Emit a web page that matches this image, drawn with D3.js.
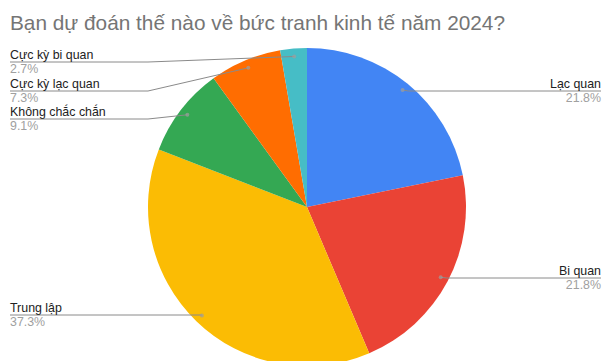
<!DOCTYPE html>
<html>
<head>
<meta charset="utf-8">
<script src="https://cdn.jsdelivr.net/npm/d3@7"></script>
<style>
  html, body { margin: 0; padding: 0; background: #fff; }
  svg { display: block; }
</style>
</head>
<body>
<svg id="chart" width="607" height="361"></svg>
<script>
// Survey answers, in drawing order (clockwise from 12 o'clock)
const categories = ["Lạc quan", "Bi quan", "Trung lập", "Không chắc chắn", "Cực kỳ lạc quan", "Cực kỳ bi quan"];
const shares = [21.8, 21.8, 37.3, 9.1, 7.3, 2.7];
const sliceColors = ["#4285f4", "#ea4335", "#fbbc04", "#34a853", "#ff6d01", "#46bdc6"];
const title = "Bạn dự đoán thế nào về bức tranh kinh tế năm 2024?";

// Label placement: side of the chart and the height of each leader line
const labelSide = ["right", "right", "left", "left", "left", "left"];
const labelLineY = [91, 278, 315, 119, 91, 62];

const W = 607, H = 361;
const cx = 307, cy = 207, R = 159;
const FONT = "'Liberation Sans', Arial, sans-serif";
const svg = d3.select("#chart");

svg.append("text")
  .attr("x", 10).attr("y", 30)
  .attr("font-family", FONT)
  .attr("font-size", 20.8)
  .attr("fill", "#757575")
  .text(title);

const data = categories.map((c, i) => ({ name: c, value: shares[i], color: sliceColors[i], side: labelSide[i], lineY: labelLineY[i] }));

const pie = d3.pie().sort(null).value(d => d.value);
const arcs = pie(data);
const arc = d3.arc().innerRadius(0).outerRadius(R);
const dotArc = d3.arc().innerRadius(R * 0.95).outerRadius(R * 0.95);

const g = svg.append("g").attr("transform", `translate(${cx},${cy})`);
g.selectAll("path.slice").data(arcs).join("path")
  .attr("class", "slice")
  .attr("d", arc)
  .attr("fill", d => d.data.color);

// Leader lines and labels
const labels = svg.append("g");
const leftX = 10, rightX = 601, bendLeft = 148;
arcs.forEach(a => {
  const [dx, dy] = dotArc.centroid(a);
  const px = cx + dx, py = cy + dy;
  const d = a.data;
  let path;
  if (d.side === "right") {
    path = `M${px},${py}L${px + 6},${d.lineY}H${rightX}`;
  } else {
    path = Math.abs(py - d.lineY) < 2
      ? `M${leftX},${d.lineY}H${px}`
      : `M${leftX},${d.lineY}H${bendLeft}L${px},${py}`;
  }
  labels.append("path")
    .attr("d", path)
    .attr("fill", "none")
    .attr("stroke", "#8a8a8a")
    .attr("stroke-width", 1);
  labels.append("circle")
    .attr("cx", px).attr("cy", py).attr("r", 2)
    .attr("fill", "#9e9e9e").attr("fill-opacity", 0.7);

  const tx = d.side === "right" ? rightX : leftX;
  const anchor = d.side === "right" ? "end" : "start";
  labels.append("text")
    .attr("x", tx).attr("y", d.lineY - 3.5)
    .attr("text-anchor", anchor)
    .attr("font-family", FONT)
    .attr("font-size", 12.4)
    .attr("fill", "#222")
    .text(d.name);
  labels.append("text")
    .attr("x", tx).attr("y", d.lineY + 11)
    .attr("text-anchor", anchor)
    .attr("font-family", FONT)
    .attr("font-size", 12.4)
    .attr("fill", "#a0a0a0")
    .text(d.value.toFixed(1) + "%");
});
</script>
</body>
</html>
